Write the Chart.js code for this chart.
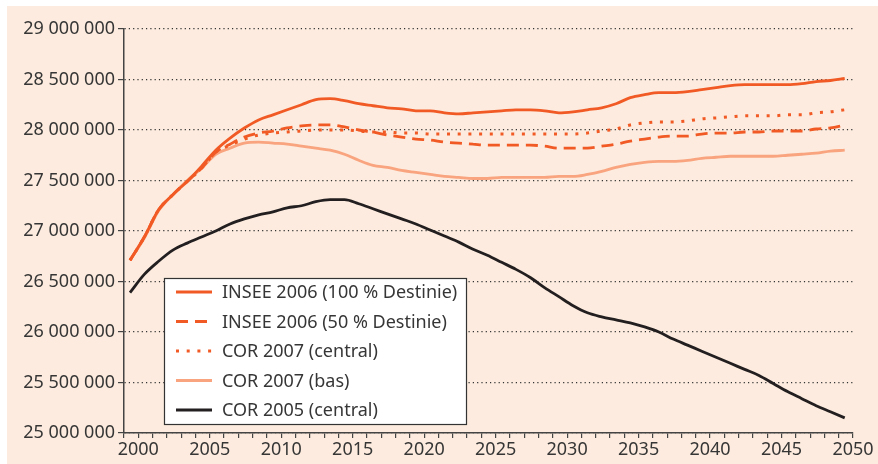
<!DOCTYPE html>
<html>
<head>
<meta charset="utf-8">
<script src="https://cdn.jsdelivr.net/npm/chart.js@4.4.1/dist/chart.umd.min.js"></script>
<style>
body { margin: 0; background: #fff; }
canvas { display: block; }
</style>
</head>
<body>
<canvas id="myChart" width="878" height="464"></canvas>
<script>
// Annees de projection
var annees = [];
for (var a = 2000; a <= 2050; a++) { annees.push(a); }

// Valeurs en millions
var insee100 = [26.71, 26.94, 27.21, 27.36, 27.49, 27.64, 27.80, 27.92, 28.02, 28.10,
  28.15, 28.20, 28.25, 28.30, 28.31, 28.29, 28.26, 28.24, 28.22, 28.21,
  28.19, 28.19, 28.17, 28.16, 28.17, 28.18, 28.19, 28.20, 28.20, 28.19,
  28.17, 28.18, 28.20, 28.22, 28.26, 28.32, 28.35, 28.37, 28.37, 28.38,
  28.40, 28.42, 28.44, 28.45, 28.45, 28.45, 28.45, 28.46, 28.48, 28.49, 28.51];
var insee50 = [26.71, 26.94, 27.21, 27.36, 27.49, 27.62, 27.78, 27.86, 27.93, 27.97,
  27.99, 28.02, 28.04, 28.05, 28.05, 28.03, 28.00, 27.98, 27.95, 27.93,
  27.91, 27.90, 27.88, 27.87, 27.86, 27.85, 27.85, 27.85, 27.85, 27.84,
  27.82, 27.82, 27.82, 27.84, 27.86, 27.89, 27.91, 27.93, 27.94, 27.94,
  27.96, 27.97, 27.97, 27.98, 27.98, 27.99, 27.99, 27.99, 28.01, 28.02, 28.05];
var cor2007c = [26.71, 26.94, 27.21, 27.36, 27.49, 27.62, 27.78, 27.85, 27.91, 27.95,
  27.97, 27.98, 27.99, 28.00, 28.00, 28.00, 27.99, 27.98, 27.98, 27.97,
  27.97, 27.96, 27.96, 27.96, 27.96, 27.96, 27.96, 27.96, 27.96, 27.96,
  27.96, 27.96, 27.97, 27.99, 28.01, 28.05, 28.07, 28.08, 28.08, 28.09,
  28.11, 28.12, 28.13, 28.14, 28.14, 28.14, 28.15, 28.15, 28.17, 28.18, 28.20];
var cor2007b = [26.71, 26.93, 27.20, 27.36, 27.50, 27.62, 27.76, 27.82, 27.87, 27.88,
  27.87, 27.86, 27.84, 27.82, 27.80, 27.76, 27.70, 27.65, 27.63, 27.60,
  27.58, 27.56, 27.54, 27.53, 27.52, 27.52, 27.53, 27.53, 27.53, 27.53,
  27.54, 27.54, 27.56, 27.59, 27.63, 27.66, 27.68, 27.69, 27.69, 27.70,
  27.72, 27.73, 27.74, 27.74, 27.74, 27.74, 27.75, 27.76, 27.77, 27.79, 27.80];
var cor2005 = [26.39, 26.57, 26.70, 26.81, 26.88, 26.94, 27.00, 27.07, 27.12, 27.16,
  27.19, 27.23, 27.25, 27.29, 27.31, 27.31, 27.27, 27.22, 27.17, 27.12,
  27.07, 27.01, 26.95, 26.89, 26.82, 26.76, 26.69, 26.62, 26.54, 26.44,
  26.35, 26.26, 26.19, 26.15, 26.12, 26.09, 26.05, 26.00, 25.93, 25.87,
  25.81, 25.75, 25.69, 25.63, 25.57, 25.49, 25.41, 25.34, 25.27, 25.21, 25.15];

var etiquettes = ["INSEE 2006 (100 % Destinie)", "INSEE 2006 (50 % Destinie)",
  "COR 2007 (central)", "COR 2007 (bas)", "COR 2005 (central)"];

var orange = '#f15a24';
var txtColor = '#363636';
var xMin = 1999.58; // axe un peu a gauche du premier point

function serie(vals) {
  return vals.map(function(v, i) { return { x: annees[i], y: v * 1000000 }; });
}

// Format 29 000 000
function fmtNum(v) {
  return String(Math.round(v)).replace(/\B(?=(\d{3})+(?!\d))/g, ' ');
}

// Fond saumon
var fondo = {
  id: 'fondo',
  beforeDraw: function(chart) {
    var ctx = chart.ctx;
    ctx.save();
    ctx.fillStyle = '#fcebde';
    ctx.fillRect(7, 6, chart.width - 7, chart.height - 6);
    ctx.restore();
  }
};

// Legende dans un cadre blanc
var leyenda = {
  id: 'leyenda',
  afterDatasetsDraw: function(chart) {
    var ctx = chart.ctx;
    var x0 = 164, y0 = 278, w = 302, h = 146;
    ctx.save();
    ctx.fillStyle = '#ffffff';
    ctx.fillRect(x0, y0, w, h);
    ctx.strokeStyle = '#333';
    ctx.lineWidth = 1.2;
    ctx.strokeRect(x0 + 0.5, y0 + 0.5, w, h);
    chart.data.datasets.forEach(function(ds, i) {
      var y = 292 + i * 29.5;
      ctx.beginPath();
      ctx.setLineDash(ds.borderDash || []);
      ctx.strokeStyle = ds.borderColor;
      ctx.lineWidth = ds.borderWidth;
      ctx.moveTo(176, y);
      ctx.lineTo(212, y);
      ctx.stroke();
      ctx.setLineDash([]);
      ctx.fillStyle = txtColor;
      ctx.font = '18px "Noto Sans"';
      ctx.textBaseline = 'middle';
      ctx.fillText(ds.label, 222, y + 1);
    });
    ctx.restore();
  }
};

Chart.defaults.font.family = '"Noto Sans", sans-serif';
Chart.defaults.font.size = 18;
Chart.defaults.color = txtColor;

var myChart = new Chart('myChart', {
  type: 'line',
  data: {
    datasets: [
      { label: etiquettes[0], data: serie(insee100), borderColor: orange, borderWidth: 2.8 },
      { label: etiquettes[1], data: serie(insee50), borderColor: orange, borderWidth: 2.8, borderDash: [12, 7] },
      { label: etiquettes[2], data: serie(cor2007c), borderColor: orange, borderWidth: 3, borderDash: [3, 7.7] },
      { label: etiquettes[3], data: serie(cor2007b), borderColor: '#f9a47e', borderWidth: 2.8 },
      { label: etiquettes[4], data: serie(cor2005), borderColor: '#231f20', borderWidth: 2.8 }
    ]
  },
  options: {
    responsive: false,
    animation: false,
    devicePixelRatio: 1,
    layout: { padding: { top: 29, right: 25, left: 0, bottom: 0 } },
    elements: {
      point: { radius: 0 },
      line: { cubicInterpolationMode: 'monotone', fill: false }
    },
    plugins: {
      legend: { display: false },
      tooltip: { enabled: false }
    },
    scales: {
      x: {
        type: 'linear',
        min: xMin,
        max: xMin + 51,
        afterBuildTicks: function(scale) {
          var t = [];
          for (var k = 0; k <= 51; k++) { t.push({ value: xMin + k }); }
          scale.ticks = t;
        },
        afterFit: function(scale) { scale.height = 31; },
        ticks: {
          autoSkip: false,
          maxRotation: 0,
          padding: 1,
          callback: function(value, index) {
            var an = 1999 + index;
            return an % 5 === 0 ? String(an) : '';
          }
        },
        grid: { drawOnChartArea: false, drawTicks: true, tickLength: 5, color: '#444', lineWidth: 1.2 },
        border: { display: true, color: '#444', width: 1.5 }
      },
      y: {
        min: 25000000,
        max: 29000000,
        afterFit: function(scale) { scale.width = 124; },
        ticks: {
          stepSize: 500000,
          padding: 3,
          callback: function(value) { return fmtNum(value); }
        },
        grid: { color: '#333', lineWidth: 1.2, tickLength: 6, tickColor: '#444' },
        border: { display: true, color: '#444', width: 1.5, dash: [1.2, 3.1] }
      }
    }
  },
  plugins: [fondo, leyenda]
});
</script>
</body>
</html>
